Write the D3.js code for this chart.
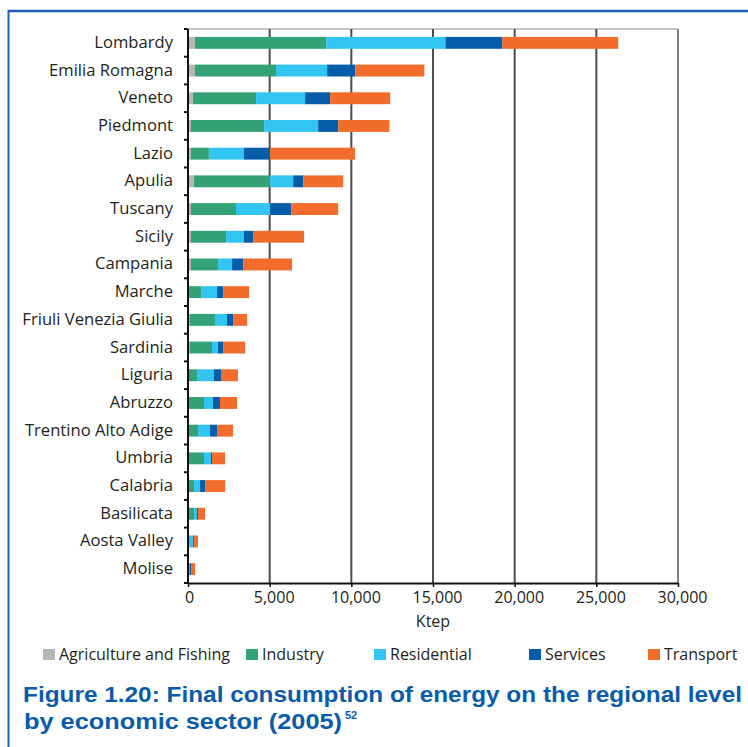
<!DOCTYPE html>
<html>
<head>
<meta charset="utf-8">
<script src="https://cdn.jsdelivr.net/npm/d3@7"></script>
<style>
  body { margin: 0; background: #fff; }
  text { font-family: "Open Sans", "Noto Sans", sans-serif; fill: #231f20; }
</style>
</head>
<body>
<script>
// regions top to bottom, values in ktep
const regions = ["Lombardy", "Emilia Romagna", "Veneto", "Piedmont", "Lazio", "Apulia", "Tuscany",
  "Sicily", "Campania", "Marche", "Friuli Venezia Giulia", "Sardinia", "Liguria", "Abruzzo",
  "Trentino Alto Adige", "Umbria", "Calabria", "Basilicata", "Aosta Valley", "Molise"];
const agriculture = [430, 430, 310, 180, 180, 370, 180, 180, 180, 30, 100, 100, 20, 30, 20, 20, 20, 20, 0, 10];
const industry    = [8030, 4960, 3860, 4480, 1100, 4660, 2760, 2150, 1660, 770, 1550, 1370, 530, 950, 590, 960, 350, 350, 40, 60];
const residential = [7300, 3130, 3000, 3310, 2150, 1410, 2085, 1100, 860, 980, 740, 370, 1040, 550, 740, 430, 370, 180, 260, 30];
const services    = [3490, 1720, 1530, 1230, 1590, 610, 1290, 550, 675, 370, 370, 310, 430, 430, 430, 60, 310, 60, 60, 90];
const transport   = [7090, 4230, 3680, 3130, 5210, 2450, 2880, 3130, 3000, 1590, 860, 1350, 1040, 1040, 980, 800, 1230, 430, 250, 250];
const sectors = ["Agriculture and Fishing", "Industry", "Residential", "Services", "Transport"];
const xTicks = [0, 5000, 10000, 15000, 20000, 25000, 30000];

const width = 748, height = 747;
const plot = { left: 188, right: 678, top: 29, bottom: 583 };

//build rows for the stack
const series = [agriculture, industry, residential, services, transport];
const rows = regions.map((r, i) => {
  const o = { region: r };
  sectors.forEach((s, j) => o[s] = series[j][i]);
  return o;
});

const svg = d3.select("body").append("svg")
  .attr("width", width).attr("height", height);

//blue frame on the left and top
svg.append("line").attr("x1", 8.5).attr("x2", 8.5).attr("y1", 10).attr("y2", height)
  .attr("stroke", "#1b5ea9").attr("stroke-width", 2);
svg.append("line").attr("x1", 8).attr("x2", width).attr("y1", 11).attr("y2", 11)
  .attr("stroke", "#1b5ea9").attr("stroke-width", 2.5);

const x = d3.scaleLinear().domain([0, 30000]).range([plot.left, plot.right]);
const y = d3.scaleBand().domain(regions).range([plot.top, plot.bottom])
  .paddingInner(0.57).paddingOuter(0.285);

const color = d3.scaleOrdinal().domain(sectors)
  .range(["#b5b6b8", "#33a377", "#33c5f2", "#055ca8", "#f26c2c"]);

//plot frame (top and right) and gridlines
svg.append("line").attr("x1", plot.left).attr("x2", plot.right).attr("y1", plot.top).attr("y2", plot.top)
  .attr("stroke", "#b0b0b0").attr("stroke-width", 1.5);
svg.append("g").selectAll("line").data(xTicks.slice(1))
  .join("line")
  .attr("x1", d => x(d)).attr("x2", d => x(d))
  .attr("y1", plot.top).attr("y2", plot.bottom)
  .attr("stroke", d => d === 30000 ? "#808080" : "#4d4d4d")
  .attr("stroke-width", 2);

//stacked bars
const stacked = d3.stack().keys(sectors)(rows);
svg.append("g").selectAll("g").data(stacked).join("g")
  .attr("fill", d => color(d.key))
  .selectAll("rect").data(d => d).join("rect")
  .attr("x", d => x(d[0]))
  .attr("y", d => y(d.data.region))
  .attr("width", d => x(d[1]) - x(d[0]))
  .attr("height", y.bandwidth());

//y axis: line, boundary ticks, labels
const yAxis = svg.append("g");
yAxis.append("line").attr("x1", plot.left).attr("x2", plot.left)
  .attr("y1", plot.top).attr("y2", plot.bottom + 1).attr("stroke", "#111").attr("stroke-width", 2);
yAxis.selectAll(".tk").data(d3.range(regions.length + 1)).join("line")
  .attr("x1", plot.left - 4).attr("x2", plot.left)
  .attr("y1", i => plot.top + i * y.step()).attr("y2", i => plot.top + i * y.step())
  .attr("stroke", "#111").attr("stroke-width", 2);
yAxis.selectAll("text").data(regions).join("text")
  .attr("x", 173).attr("y", d => y(d) + y.bandwidth() / 2)
  .attr("dy", "0.3em").attr("text-anchor", "end")
  .style("font-size", "16.6px")
  .text(d => d);

//x axis
const xAxis = svg.append("g").attr("transform", `translate(0,${plot.bottom})`)
  .call(d3.axisBottom(x).tickValues(xTicks).tickSize(4).tickSizeOuter(0).tickFormat(d3.format(",")));
xAxis.select(".domain").attr("stroke", "#111").attr("stroke-width", 2);
xAxis.selectAll(".tick line").attr("stroke", "#111").attr("stroke-width", 1.5);
xAxis.selectAll(".tick text")
  .attr("y", 9).attr("dx", d => d === 0 ? 1 : 4)
  .style("font-family", "'Open Sans', sans-serif").style("font-size", "16px").attr("fill", "#231f20");

svg.append("text").attr("x", (plot.left + plot.right) / 2).attr("y", 627)
  .attr("text-anchor", "middle").style("font-size", "16px").text("Ktep");

//legend
const legendX = [43, 246, 374, 529, 648];
const legend = svg.append("g").selectAll("g").data(sectors).join("g")
  .attr("transform", (d, i) => `translate(${legendX[i]},649)`);
legend.append("rect").attr("width", 12).attr("height", 11).attr("fill", d => color(d));
legend.append("text").attr("x", 16).attr("y", 11)
  .style("font-size", "16px").text(d => d);

//caption
const cap = svg.append("g").style("font-family", "'Liberation Sans', Arial, sans-serif")
  .style("font-weight", "bold");
cap.append("text").attr("x", 23).attr("y", 702)
  .attr("textLength", 719).attr("lengthAdjust", "spacingAndGlyphs")
  .style("font-size", "22.5px").style("fill", "#0b5ba8").style("font-family", "inherit")
  .text("Figure 1.20: Final consumption of energy on the regional level");
cap.append("text").attr("x", 24).attr("y", 729)
  .attr("textLength", 318).attr("lengthAdjust", "spacingAndGlyphs")
  .style("font-size", "22.5px").style("fill", "#0b5ba8").style("font-family", "inherit")
  .text("by economic sector (2005)");
cap.append("text").attr("x", 345).attr("y", 719)
  .style("font-size", "11px").style("fill", "#0b5ba8").style("font-family", "inherit")
  .text("52");
</script>
</body>
</html>
